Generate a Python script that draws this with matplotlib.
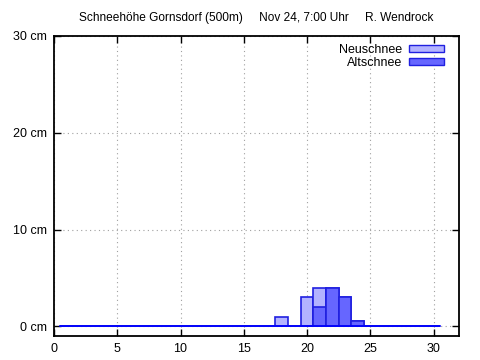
import matplotlib
matplotlib.use("Agg")
import matplotlib.pyplot as plt
from matplotlib.patches import Patch

days = list(range(1, 31))
neuschnee = [0]*17 + [1, 0, 3, 2, 0, 0, 0] + [0]*6
altschnee = [0]*20 + [2, 4, 3, 0.5] + [0]*6
total = [n + a for n, a in zip(neuschnee, altschnee)]

title = "Schneehöhe Gornsdorf (500m)     Nov 24, 7:00 Uhr     R. Wendrock"
xticks = [0, 5, 10, 15, 20, 25, 30]
yticks = [0, 10, 20, 30]
ylabels = ["0 cm", "10 cm", "20 cm", "30 cm"]

plt.rcParams['font.family'] = ['Liberation Sans', 'DejaVu Sans']
fig = plt.figure(figsize=(4.8, 3.6), dpi=100)
ax = fig.add_axes([54/480, 1-336/360, (459-54)/480, (336-36)/360])

light_fc = '#b3b3ff'
dark_fc = '#6666ff'
edge = '#2020e0'

ax.bar(days, total, width=1.0, color=light_fc, edgecolor=edge, linewidth=1.2, zorder=3)
ax.bar(days, altschnee, width=1.0, color=dark_fc, edgecolor=edge, linewidth=1.2, zorder=4)
ax.plot([0.5, 30.5], [0, 0], color='#0000ff', lw=1.2, zorder=5)

ax.set_xlim(0, 32)
ax.set_ylim(-1, 30)
ax.set_xticks(xticks)
ax.set_yticks(yticks)
ax.set_yticklabels(ylabels)
ax.tick_params(direction='in', length=5, width=1, top=True, right=True,
               labelsize=9, pad=5)
ax.tick_params(axis='x', pad=5)
ax.grid(True, color='#a0a0a0', linestyle=(0, (1, 3)), linewidth=0.8, zorder=0)
for s in ax.spines.values():
    s.set_linewidth(1.3)

fig.text(0.534, 1-18/360, title, ha='center', va='center', fontsize=8.6)

handles = [Patch(facecolor=light_fc, edgecolor=edge, label='Neuschnee'),
           Patch(facecolor=dark_fc, edgecolor=edge, label='Altschnee')]
leg = ax.legend(handles=handles, loc='upper right', markerfirst=False, frameon=False,
                fontsize=9, handlelength=2.8, handleheight=0.5, labelspacing=0.1,
                borderaxespad=0, borderpad=0.4, handletextpad=0.56,
                bbox_to_anchor=(1-10/405, 1-3/300))
for t in leg.get_texts():
    t.set_ha('right')

fig.savefig('out.png', dpi=100)
